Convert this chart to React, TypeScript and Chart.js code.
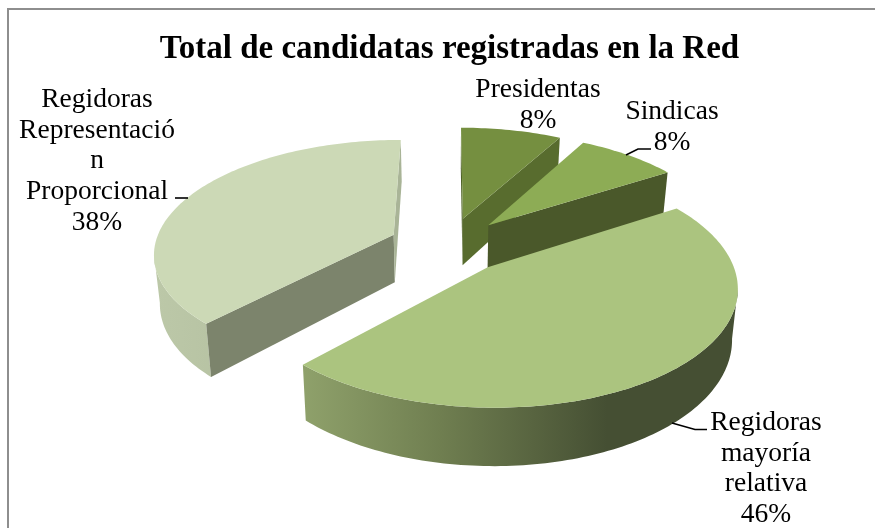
import React, { useEffect, useRef } from "react";
import { Chart, registerables } from "chart.js";

Chart.register(...registerables);

const categories = ["Presidentas", "Sindicas", "Regidoras mayoría relativa", "Regidoras Representación Proporcional"];
const shares = [8, 8, 46, 38];
const topColors = ["#758f40", "#8dac55", "#abc47f", "#ccd9b6"];
const startFaceColors = ["#4f6228", "#4a582a", "#454f33", "#7c846c"];
const endFaceColors = ["#586c2e", "#4a582a", "#454f33", "#a9b497"];
const rimStops: [number, string][][] = [
  [[0, "#586c2e"], [1, "#586c2e"]],
  [[0, "#4a582a"], [1, "#4a582a"]],
  [[0, "#8fa16b"], [0.32, "#6f7e50"], [0.7, "#454f33"], [1, "#454f33"]],
  [[0, "#bcc8a8"], [0.8, "#adb99a"], [1, "#a9b596"]],
];
const labelLines = [
  ["Presidentas", "8%"],
  ["Sindicas", "8%"],
  ["Regidoras", "mayoría", "relativa", "46%"],
  ["Regidoras", "Representació", "n", "Proporcional", "38%"],
];
const titleText = "Total de candidatas registradas en la Red";

const FONT = '"Liberation Serif", serif';
const CX = 448.5, CY = 245, RX = 239, RY = 112, PERSP = 0.15, EXPLODE = 0.25, DEPTH = 48, SHIFT = 0.02;

type Pt = { x: number; y: number };
const project = (u: number, v: number): Pt => {
  const w = 1 - PERSP * v;
  return { x: CX + (RX * u) / w, y: CY + (RY * v) / w };
};
const lower = (u: number, v: number): Pt => {
  const p = project(u, v);
  const w = 1 - PERSP * v;
  return { x: CX + (p.x - CX) * (1 - SHIFT), y: p.y + DEPTH / w };
};
const cross = (ax: number, ay: number, bx: number, by: number) => ax * by - ay * bx;

const path = (ctx: CanvasRenderingContext2D, pts: Pt[]) => {
  ctx.beginPath();
  pts.forEach((p, i) => (i ? ctx.lineTo(p.x, p.y) : ctx.moveTo(p.x, p.y)));
  ctx.closePath();
};

const drawSlice = (ctx: CanvasRenderingContext2D, arc: any, i: number) => {
  const a0 = arc.startAngle, a1 = arc.endAngle, mid = (a0 + a1) / 2;
  const ou = Math.cos(mid) * EXPLODE, ov = Math.sin(mid) * EXPLODE;
  const n = Math.max(8, Math.round((a1 - a0) / 0.02));
  const ang: number[] = [];
  for (let k = 0; k <= n; k++) ang.push(a0 + ((a1 - a0) * k) / n);
  const uv = ang.map((a) => [ou + Math.cos(a), ov + Math.sin(a)]);
  const top = uv.map(([u, v]) => project(u, v));
  const bot = uv.map(([u, v]) => lower(u, v));
  const apex = project(ou, ov), apexB = lower(ou, ov);

  // outer rim
  const xs = top.concat(bot).map((p) => p.x);
  const grad = ctx.createLinearGradient(Math.min(...xs), 0, Math.max(...xs), 0);
  rimStops[i].forEach(([s, c]) => grad.addColorStop(s, c));
  const visible = (k: number) => {
    const tx = top[k + 1].x - top[k].x, ty = top[k + 1].y - top[k].y;
    return cross(tx, ty, 0, 1) * cross(tx, ty, apex.x - top[k].x, apex.y - top[k].y) < 0;
  };
  let k = 0;
  while (k < n) {
    if (!visible(k)) { k++; continue; }
    let e = k;
    while (e < n && visible(e)) e++;
    path(ctx, top.slice(k, e + 1).concat(bot.slice(k, e + 1).reverse()));
    ctx.fillStyle = grad;
    ctx.fill();
    k = e;
  }

  // radial faces
  const midRim = top[Math.floor(n / 2)];
  [0, n].forEach((idx) => {
    const ex = top[idx].x - apex.x, ey = top[idx].y - apex.y;
    const s1 = cross(ex, ey, apexB.x - apex.x, apexB.y - apex.y);
    const s2 = cross(ex, ey, midRim.x - apex.x, midRim.y - apex.y);
    if (s1 * s2 < 0) {
      path(ctx, [apex, top[idx], bot[idx], apexB]);
      ctx.fillStyle = idx === 0 ? startFaceColors[i] : endFaceColors[i];
      ctx.fill();
    }
  });

  // top face
  path(ctx, [apex, ...top]);
  ctx.fillStyle = topColors[i];
  ctx.fill();
};

const labelPlacement = [
  { x: 538, y: 97 },
  { x: 672, y: 119 },
  { x: 766, y: 430 },
  { x: 97, y: 107 },
];
const leaders: Pt[][] = [
  [],
  [{ x: 626, y: 155 }, { x: 638, y: 149 }, { x: 651, y: 149 }],
  [{ x: 672, y: 423 }, { x: 695, y: 429.5 }, { x: 707, y: 429.5 }],
  [{ x: 175, y: 198 }, { x: 188, y: 198 }],
];

const pie3d = {
  id: "pie3d",
  beforeDraw(chart: any) {
    const ctx = chart.ctx;
    ctx.save();
    ctx.strokeStyle = "#8e8e8e";
    ctx.lineWidth = 2;
    ctx.strokeRect(8, 9, 900, 600);
    ctx.restore();
  },
  beforeDatasetDraw(chart: any) {
    const ctx = chart.ctx;
    const arcs = chart.getDatasetMeta(0).data;
    ctx.save();
    [0, 1, 3, 2].forEach((i) => drawSlice(ctx, arcs[i], i));
    ctx.restore();
    return false;
  },
  afterDatasetsDraw(chart: any) {
    const ctx = chart.ctx;
    ctx.save();
    ctx.fillStyle = "#000";
    ctx.strokeStyle = "#000";
    ctx.lineWidth = 1.6;
    ctx.textAlign = "center";
    ctx.textBaseline = "alphabetic";
    ctx.font = `27.5px ${FONT}`;
    labelLines.forEach((lines, i) => {
      lines.forEach((t, j) => ctx.fillText(t, labelPlacement[i].x, labelPlacement[i].y + j * 30.7));
      if (leaders[i].length) {
        ctx.beginPath();
        leaders[i].forEach((p, j) => (j ? ctx.lineTo(p.x, p.y) : ctx.moveTo(p.x, p.y)));
        ctx.stroke();
      }
    });
    ctx.restore();
  },
};

export default function App() {
  const ref = useRef<HTMLCanvasElement>(null);
  useEffect(() => {
    document.body.style.margin = "0";
    const chart = new Chart(ref.current!, {
      type: "pie",
      data: {
        labels: categories,
        datasets: [{ data: shares, backgroundColor: topColors, borderWidth: 0 }],
      },
      options: {
        responsive: false,
        animation: false,
        layout: { padding: { left: 24, top: 0 } },
        plugins: {
          legend: { display: false },
          tooltip: { enabled: false },
          title: {
            display: true,
            text: titleText,
            color: "#000",
            font: { family: FONT, size: 33, weight: "bold" },
            padding: { top: 30, bottom: 10 },
          },
        },
      },
      plugins: [pie3d],
    } as any);
    return () => chart.destroy();
  }, []);
  return <canvas ref={ref} width={875} height={528} style={{ display: "block", background: "#fff" }} />;
}
